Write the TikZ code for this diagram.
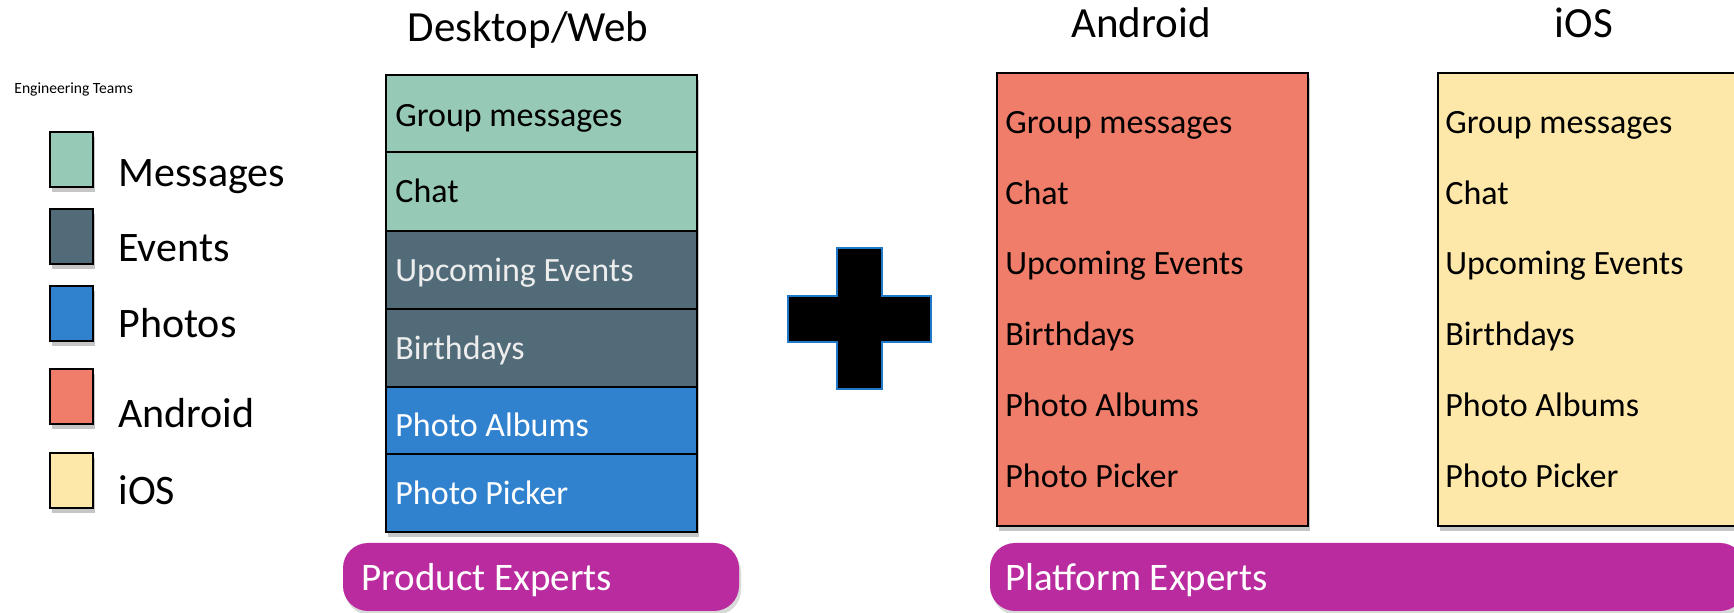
\documentclass[tikz,border=0pt]{standalone}
\usepackage{fontspec}
\setmainfont{Carlito}
\usetikzlibrary{shadows}

\definecolor{msgcol}{HTML}{97C9B7}
\definecolor{evtcol}{HTML}{516B79}
\definecolor{phocol}{HTML}{3182CE}
\definecolor{andcol}{HTML}{F07D6A}
\definecolor{ioscol}{HTML}{FDE8A9}
\definecolor{expcol}{HTML}{BA2BA0}
\definecolor{pluscol}{HTML}{1F78C8}

\tikzset{
  shadebox/.style={draw=black,line width=.7pt,drop shadow={shadow xshift=1pt,shadow yshift=-2.5pt,opacity=.45}},
  legendtext/.style={anchor=base west,inner sep=0pt,font=\fontsize{21}{25}\selectfont},
  rowtext/.style={anchor=base west,inner sep=0pt,font=\fontsize{17}{20}\selectfont},
  titletext/.style={anchor=base,inner sep=0pt,font=\fontsize{21.5}{25}\selectfont},
  pilltext/.style={anchor=base west,inner sep=0pt,text=white,font=\fontsize{19.5}{23}\selectfont},
  pill/.style={fill=expcol,draw=none,rounded corners=12.5pt,drop shadow={shadow xshift=1pt,shadow yshift=-2pt,opacity=.3}}
}

\begin{document}
\begin{tikzpicture}[x=0.5pt,y=-0.5pt]
            \useasboundingbox (0,0) rectangle (1734,613);
            \clip (0,0) rectangle (1734,613);

            % legend
            \node[anchor=base west,inner sep=0pt,font=\fontsize{7.8}{9}\selectfont] (legtitle) at (14,94) {Engineering Teams};
            \draw[shadebox,fill=msgcol] (50,132) rectangle (93,187);
            \draw[shadebox,fill=evtcol] (50,209) rectangle (93,264);
            \draw[shadebox,fill=phocol] (50,286) rectangle (93,341);
            \draw[shadebox,fill=andcol] (50,369) rectangle (93,424);
            \draw[shadebox,fill=ioscol] (50,453) rectangle (93,508);
            \node[legendtext] (legmsg) at (118,187) {Messages};
            \node[legendtext] (legevt) at (118,262) {Events};
            \node[legendtext] (legpho) at (118,338) {Photos};
            \node[legendtext] (legand) at (118,428) {Android};
            \node[legendtext] (legios) at (118,505) {iOS};

            % desktop/web stack
            \node[titletext] (desktop) at (528,42) {Desktop/Web};
            \draw[shadebox,fill=white] (386,75) rectangle (697,532);
            \draw[fill=msgcol,line width=.7pt] (386,75) rectangle (697,152);
            \draw[fill=msgcol,line width=.7pt] (386,152) rectangle (697,231);
            \draw[fill=evtcol,line width=.7pt] (386,231) rectangle (697,309);
            \draw[fill=evtcol,line width=.7pt] (386,309) rectangle (697,387);
            \draw[fill=phocol,line width=.7pt] (386,387) rectangle (697,454);
            \draw[fill=phocol,line width=.7pt] (386,454) rectangle (697,532);
            \node[rowtext] (dwgroup) at (395,127) {Group messages};
            \node[rowtext] (dwchat) at (395,203) {Chat};
            \node[rowtext,text=white!93!black] (dwupcoming) at (395,282) {Upcoming Events};
            \node[rowtext,text=white!93!black] (dwbirthdays) at (395,360) {Birthdays};
            \node[rowtext,text=white] (dwalbums) at (395,437) {Photo Albums};
            \node[rowtext,text=white] (dwpicker) at (395,505) {Photo Picker};

            % plus
            \draw[fill=black,draw=pluscol,line width=1pt] (837,248) -- (882,248) -- (882,296) -- (931,296) -- (931,342) -- (882,342) -- (882,389) -- (837,389) -- (837,342) -- (788,342) -- (788,296) -- (837,296) -- cycle;

            % android
            \node[titletext] (android) at (1141,38) {Android};
            \draw[shadebox,fill=andcol] (997,73) rectangle (1308,526);
            \node[rowtext] (angroup) at (1005,134) {Group messages};
            \node[rowtext] (anchat) at (1005,205) {Chat};
            \node[rowtext] (anupcoming) at (1005,275) {Upcoming Events};
            \node[rowtext] (anbirthdays) at (1005,346) {Birthdays};
            \node[rowtext] (analbums) at (1005,417) {Photo Albums};
            \node[rowtext] (anpicker) at (1005,488) {Photo Picker};

            % ios
            \node[titletext] (ios) at (1584,38) {iOS};
            \draw[shadebox,fill=ioscol] (1438,73) rectangle (1760,526);
            \node[rowtext] (iogroup) at (1445,134) {Group messages};
            \node[rowtext] (iochat) at (1445,205) {Chat};
            \node[rowtext] (ioupcoming) at (1445,275) {Upcoming Events};
            \node[rowtext] (iobirthdays) at (1445,346) {Birthdays};
            \node[rowtext] (ioalbums) at (1445,417) {Photo Albums};
            \node[rowtext] (iopicker) at (1445,488) {Photo Picker};

            % experts
            \draw[pill] (343,543) rectangle (739,611);
            \node[pilltext] (product) at (361,591) {Product Experts};
            \draw[pill] (990,543) rectangle (1745,611);
            \node[pilltext] (platform) at (1005,591) {Platform Experts};
        \end{tikzpicture}
\end{document}
